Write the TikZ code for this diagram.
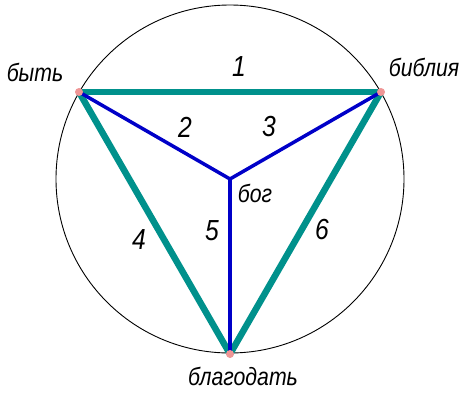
\documentclass[tikz,border=0pt]{standalone}
\usepackage{fontspec}
\newfontfamily\gost[FakeStretch=0.85]{Liberation Sans}
\tikzset{
  dot/.style = {circle, fill, minimum size=#1,
                inner sep=0pt, outer sep=0pt},
  dot/.default = 8pt,
  word/.style = {font=\gost\itshape\fontsize{25}{27}\selectfont, inner sep=0pt},
  num/.style = {font=\gost\itshape\fontsize{29}{31}\selectfont, inner sep=0pt},
  rib/.style = {color=tealrib, line width=6.5pt, line cap=round},
  spoke/.style = {color=bluespoke, line width=3.5pt}
}
\definecolor{tealrib}{RGB}{0,145,140}
\definecolor{bluespoke}{RGB}{0,0,200}
\definecolor{pinkdot}{RGB}{240,150,150}

\begin{document}
\begin{tikzpicture}[x=1pt, y=-1pt]
	\useasboundingbox (0,0) rectangle (475,400);
	\def \r{174}

	% Vertices
	\coordinate (bog) at (230,179);
	\coordinate (byt) at (79,92);
	\coordinate (biblia) at (381,92);
	\coordinate (blagodat) at (230,354);

	% Circle
	\draw[black, line width=0.9pt] (bog) circle (\r);

	% Ribs
	\draw[rib] (byt) -- (biblia); % 1
	\draw[rib] (byt) -- (blagodat); % 4
	\draw[rib] (biblia) -- (blagodat); % 6

	% Spokes
	\draw[spoke] (bog) -- (byt); % 2
	\draw[spoke] (bog) -- (biblia); % 3
	\draw[spoke] (bog) -- (blagodat); % 5

	% Dots
	\node[dot, fill=pinkdot] (d1) at (byt) {};
	\node[dot, fill=pinkdot] (d2) at (biblia) {};
	\node[dot, fill=pinkdot] (d3) at (blagodat) {};

	% Words
	\node[word] (tbyt) at (35,72) {быть};
	\node[word] (tbiblia) at (424,67) {библия};
	\node[word] (tblagodat) at (243,376) {благодать};
	\node[word] (tbog) at (255,193) {бог};

	% Numbers
	\node[num] (n1) at (239,67) {1};
	\node[num] (n2) at (185,127) {2};
	\node[num] (n3) at (269,127) {3};
	\node[num] (n4) at (139,240) {4};
	\node[num] (n5) at (212,231) {5};
	\node[num] (n6) at (322,230) {6};
\end{tikzpicture}
\end{document}
